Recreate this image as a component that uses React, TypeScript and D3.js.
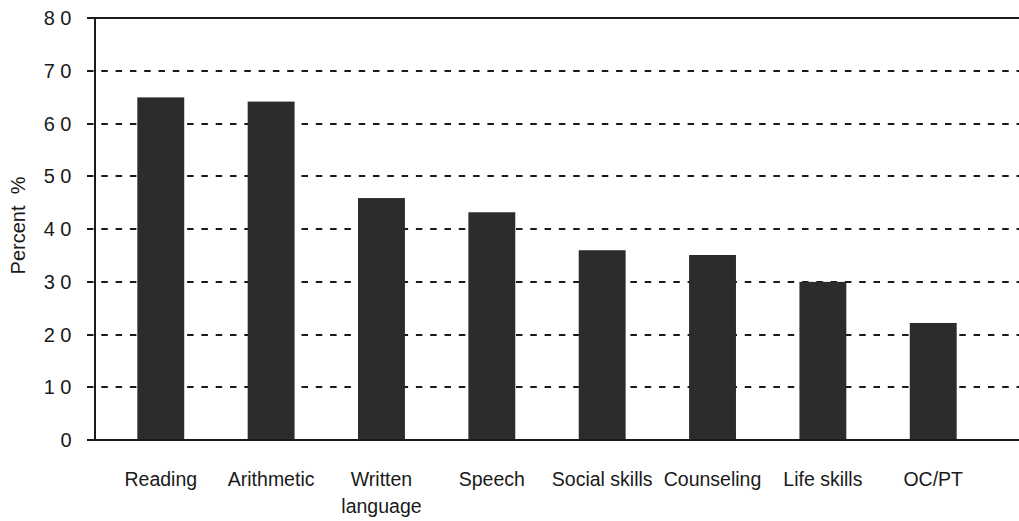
import React from "react";
import * as d3 from "d3";

const categories: string[][] = [
  ["Reading"],
  ["Arithmetic"],
  ["Written", "language"],
  ["Speech"],
  ["Social skills"],
  ["Counseling"],
  ["Life skills"],
  ["OC/PT"],
];
const values: number[] = [65, 64.2, 45.9, 43.2, 36, 35.1, 30, 22.2];
const yTicks: number[] = [0, 10, 20, 30, 40, 50, 60, 70, 80];
const yLabel = "Percent  %";

const W = 1019;
const H = 521;
const axisX = 95;
const rightX = 1019;

export default function App() {
  const keys = categories.map((c) => c.join(" "));
  const x = d3
    .scaleBand<string>()
    .domain(keys)
    .range([105.6, 988.4])
    .paddingInner(0.575)
    .paddingOuter(0.2875);
  const y = d3.scaleLinear().domain([0, 80]).range([440, 18.3]);
  const font = "'Liberation Sans', Arial, Helvetica, sans-serif";

  return (
    <svg
      width={W}
      height={H}
      style={{ position: "absolute", left: 0, top: 0, background: "#fff" }}
      fontFamily={font}
    >
      {yTicks
        .filter((t) => t !== 0 && t !== 80)
        .map((t) => (
          <line
            key={"g" + t}
            x1={87}
            x2={rightX}
            y1={Math.round(y(t))}
            y2={Math.round(y(t))}
            stroke="#1a1a1a"
            strokeWidth={2}
            strokeDasharray="6.5 7.8"
          />
        ))}
      <line x1={87} x2={rightX} y1={Math.round(y(80))} y2={Math.round(y(80))} stroke="#1a1a1a" strokeWidth={2} />
      {keys.map((k, i) => (
        <rect
          key={k}
          x={x(k)}
          y={y(values[i])}
          width={x.bandwidth()}
          height={y(0) - y(values[i])}
          fill="#2c2c2c"
        />
      ))}
      <line x1={axisX} x2={axisX} y1={y(80)} y2={y(0)} stroke="#1a1a1a" strokeWidth={2} />
      <line x1={87} x2={rightX} y1={y(0)} y2={y(0)} stroke="#1a1a1a" strokeWidth={2} />
      {yTicks.map((t) => (
        <text
          key={"t" + t}
          x={77}
          y={y(t) + 7}
          textAnchor="end"
          fontSize={20}
          letterSpacing={5.5}
          fill="#1a1a1a"
        >
          {t}
        </text>
      ))}
      <text
        transform={`translate(25,${225.5}) rotate(-90)`}
        textAnchor="middle"
        fontSize={20}
        fill="#1a1a1a"
        style={{ whiteSpace: "pre" }}
      >
        {yLabel}
      </text>
      {categories.map((lines, i) => (
        <text
          key={"c" + i}
          x={(x(keys[i]) as number) + x.bandwidth() / 2}
          y={486}
          textAnchor="middle"
          fontSize={19.5}
          fill="#1a1a1a"
        >
          {lines.map((ln, j) => (
            <tspan key={j} x={(x(keys[i]) as number) + x.bandwidth() / 2} dy={j === 0 ? 0 : 27}>
              {ln}
            </tspan>
          ))}
        </text>
      ))}
    </svg>
  );
}
